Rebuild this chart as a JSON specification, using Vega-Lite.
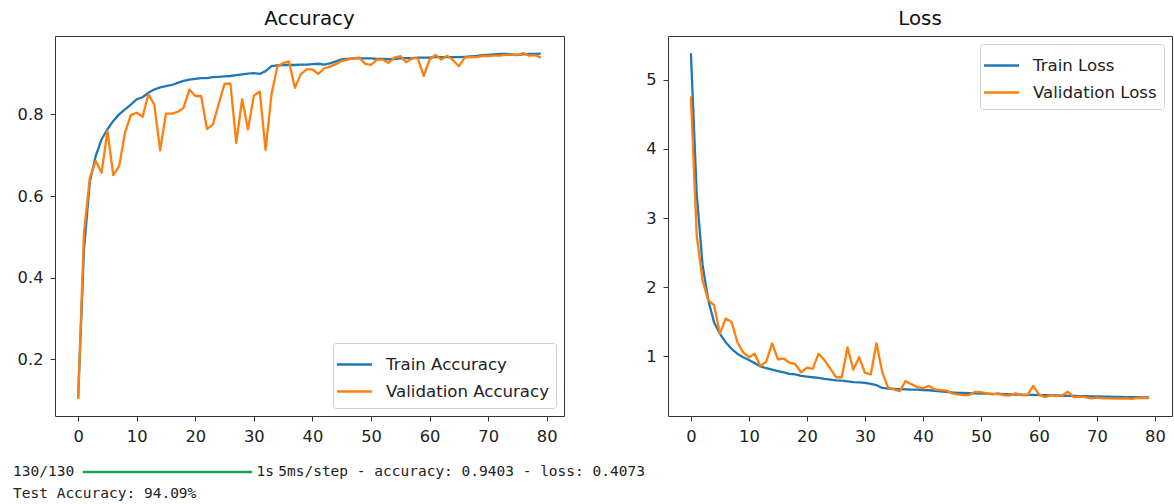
{
  "$schema": "https://vega.github.io/schema/vega-lite/v6.json",
  "background": "white",
  "padding": {"left": 12, "top": 8, "right": 5, "bottom": 2},
  "config": {
    "font": "DejaVu Sans",
    "view": {"stroke": "#333", "strokeWidth": 1},
    "axis": {"grid": false, "domain": false, "tickColor": "#333", "tickSize": 5, "labelFontSize": 16.3, "labelColor": "#222", "labelFont": "DejaVu Sans", "title": null},
    "axisX": {"labelPadding": 7},
    "axisY": {"labelPadding": 7},
    "title": {"fontSize": 19.8, "fontWeight": "normal", "color": "#111", "font": "DejaVu Sans", "frame": "group", "offset": 7},
    "legend": {"labelFontSize": 16.6, "labelColor": "#222", "labelFont": "DejaVu Sans", "labelLimit": 400, "symbolType": "M-1.35,0L1.35,0", "symbolSize": 676, "symbolStrokeWidth": 2.3, "fillColor": "white", "strokeColor": "#d0d0d0", "cornerRadius": 3, "padding": 7, "rowPadding": 3, "offset": 8, "labelOffset": 17}
  },
  "datasets": {
    "history": [
      {"epoch":0,"acc":0.105,"val_acc":0.103,"loss":5.38,"val_loss":4.76},
      {"epoch":1,"acc":0.47,"val_acc":0.51,"loss":3.35,"val_loss":2.75},
      {"epoch":2,"acc":0.635,"val_acc":0.645,"loss":2.33,"val_loss":2.10},
      {"epoch":3,"acc":0.698,"val_acc":0.686,"loss":1.81,"val_loss":1.81},
      {"epoch":4,"acc":0.739,"val_acc":0.657,"loss":1.49,"val_loss":1.74},
      {"epoch":5,"acc":0.763,"val_acc":0.759,"loss":1.327,"val_loss":1.33},
      {"epoch":6,"acc":0.784,"val_acc":0.651,"loss":1.206,"val_loss":1.55},
      {"epoch":7,"acc":0.800,"val_acc":0.673,"loss":1.11,"val_loss":1.50},
      {"epoch":8,"acc":0.812,"val_acc":0.755,"loss":1.04,"val_loss":1.21},
      {"epoch":9,"acc":0.824,"val_acc":0.798,"loss":0.99,"val_loss":1.06},
      {"epoch":10,"acc":0.837,"val_acc":0.804,"loss":0.95,"val_loss":0.99},
      {"epoch":11,"acc":0.842,"val_acc":0.794,"loss":0.904,"val_loss":1.04},
      {"epoch":12,"acc":0.853,"val_acc":0.849,"loss":0.856,"val_loss":0.856},
      {"epoch":13,"acc":0.861,"val_acc":0.824,"loss":0.83,"val_loss":0.93},
      {"epoch":14,"acc":0.866,"val_acc":0.712,"loss":0.81,"val_loss":1.19},
      {"epoch":15,"acc":0.869,"val_acc":0.802,"loss":0.79,"val_loss":0.96},
      {"epoch":16,"acc":0.872,"val_acc":0.802,"loss":0.77,"val_loss":0.97},
      {"epoch":17,"acc":0.877,"val_acc":0.806,"loss":0.75,"val_loss":0.91},
      {"epoch":18,"acc":0.882,"val_acc":0.816,"loss":0.74,"val_loss":0.89},
      {"epoch":19,"acc":0.885,"val_acc":0.861,"loss":0.72,"val_loss":0.77},
      {"epoch":20,"acc":0.887,"val_acc":0.845,"loss":0.71,"val_loss":0.84},
      {"epoch":21,"acc":0.889,"val_acc":0.845,"loss":0.70,"val_loss":0.82},
      {"epoch":22,"acc":0.889,"val_acc":0.764,"loss":0.69,"val_loss":1.04},
      {"epoch":23,"acc":0.891,"val_acc":0.775,"loss":0.675,"val_loss":0.95},
      {"epoch":24,"acc":0.892,"val_acc":0.826,"loss":0.665,"val_loss":0.83},
      {"epoch":25,"acc":0.893,"val_acc":0.875,"loss":0.655,"val_loss":0.70},
      {"epoch":26,"acc":0.894,"val_acc":0.875,"loss":0.65,"val_loss":0.70},
      {"epoch":27,"acc":0.896,"val_acc":0.730,"loss":0.64,"val_loss":1.13},
      {"epoch":28,"acc":0.898,"val_acc":0.837,"loss":0.63,"val_loss":0.81},
      {"epoch":29,"acc":0.900,"val_acc":0.763,"loss":0.625,"val_loss":0.99},
      {"epoch":30,"acc":0.901,"val_acc":0.846,"loss":0.62,"val_loss":0.765},
      {"epoch":31,"acc":0.899,"val_acc":0.856,"loss":0.605,"val_loss":0.74},
      {"epoch":32,"acc":0.906,"val_acc":0.713,"loss":0.585,"val_loss":1.19},
      {"epoch":33,"acc":0.918,"val_acc":0.848,"loss":0.545,"val_loss":0.77},
      {"epoch":34,"acc":0.920,"val_acc":0.917,"loss":0.535,"val_loss":0.549},
      {"epoch":35,"acc":0.921,"val_acc":0.926,"loss":0.532,"val_loss":0.525},
      {"epoch":36,"acc":0.921,"val_acc":0.929,"loss":0.528,"val_loss":0.50},
      {"epoch":37,"acc":0.921,"val_acc":0.865,"loss":0.525,"val_loss":0.644},
      {"epoch":38,"acc":0.922,"val_acc":0.898,"loss":0.522,"val_loss":0.60},
      {"epoch":39,"acc":0.922,"val_acc":0.910,"loss":0.52,"val_loss":0.56},
      {"epoch":40,"acc":0.923,"val_acc":0.910,"loss":0.515,"val_loss":0.54},
      {"epoch":41,"acc":0.924,"val_acc":0.899,"loss":0.512,"val_loss":0.575},
      {"epoch":42,"acc":0.922,"val_acc":0.913,"loss":0.505,"val_loss":0.525},
      {"epoch":43,"acc":0.925,"val_acc":0.917,"loss":0.497,"val_loss":0.515},
      {"epoch":44,"acc":0.930,"val_acc":0.923,"loss":0.488,"val_loss":0.51},
      {"epoch":45,"acc":0.935,"val_acc":0.931,"loss":0.48,"val_loss":0.467},
      {"epoch":46,"acc":0.936,"val_acc":0.934,"loss":0.475,"val_loss":0.452},
      {"epoch":47,"acc":0.937,"val_acc":0.937,"loss":0.472,"val_loss":0.443},
      {"epoch":48,"acc":0.937,"val_acc":0.939,"loss":0.469,"val_loss":0.443},
      {"epoch":49,"acc":0.937,"val_acc":0.924,"loss":0.467,"val_loss":0.49},
      {"epoch":50,"acc":0.937,"val_acc":0.921,"loss":0.465,"val_loss":0.486},
      {"epoch":51,"acc":0.936,"val_acc":0.934,"loss":0.462,"val_loss":0.467},
      {"epoch":52,"acc":0.936,"val_acc":0.934,"loss":0.46,"val_loss":0.452},
      {"epoch":53,"acc":0.935,"val_acc":0.926,"loss":0.458,"val_loss":0.467},
      {"epoch":54,"acc":0.936,"val_acc":0.939,"loss":0.455,"val_loss":0.438},
      {"epoch":55,"acc":0.937,"val_acc":0.943,"loss":0.452,"val_loss":0.438},
      {"epoch":56,"acc":0.938,"val_acc":0.928,"loss":0.45,"val_loss":0.467},
      {"epoch":57,"acc":0.938,"val_acc":0.937,"loss":0.448,"val_loss":0.443},
      {"epoch":58,"acc":0.939,"val_acc":0.937,"loss":0.446,"val_loss":0.438},
      {"epoch":59,"acc":0.939,"val_acc":0.894,"loss":0.444,"val_loss":0.575},
      {"epoch":60,"acc":0.939,"val_acc":0.934,"loss":0.442,"val_loss":0.452},
      {"epoch":61,"acc":0.940,"val_acc":0.946,"loss":0.44,"val_loss":0.414},
      {"epoch":62,"acc":0.940,"val_acc":0.934,"loss":0.438,"val_loss":0.438},
      {"epoch":63,"acc":0.940,"val_acc":0.944,"loss":0.436,"val_loss":0.428},
      {"epoch":64,"acc":0.940,"val_acc":0.933,"loss":0.434,"val_loss":0.438},
      {"epoch":65,"acc":0.940,"val_acc":0.918,"loss":0.432,"val_loss":0.49},
      {"epoch":66,"acc":0.941,"val_acc":0.939,"loss":0.43,"val_loss":0.414},
      {"epoch":67,"acc":0.942,"val_acc":0.941,"loss":0.428,"val_loss":0.419},
      {"epoch":68,"acc":0.943,"val_acc":0.940,"loss":0.426,"val_loss":0.414},
      {"epoch":69,"acc":0.945,"val_acc":0.943,"loss":0.424,"val_loss":0.395},
      {"epoch":70,"acc":0.946,"val_acc":0.943,"loss":0.422,"val_loss":0.405},
      {"epoch":71,"acc":0.947,"val_acc":0.944,"loss":0.42,"val_loss":0.395},
      {"epoch":72,"acc":0.948,"val_acc":0.944,"loss":0.418,"val_loss":0.395},
      {"epoch":73,"acc":0.948,"val_acc":0.946,"loss":0.416,"val_loss":0.39},
      {"epoch":74,"acc":0.947,"val_acc":0.946,"loss":0.415,"val_loss":0.39},
      {"epoch":75,"acc":0.946,"val_acc":0.945,"loss":0.414,"val_loss":0.395},
      {"epoch":76,"acc":0.947,"val_acc":0.950,"loss":0.412,"val_loss":0.386},
      {"epoch":77,"acc":0.948,"val_acc":0.944,"loss":0.411,"val_loss":0.40},
      {"epoch":78,"acc":0.948,"val_acc":0.945,"loss":0.41,"val_loss":0.40},
      {"epoch":79,"acc":0.949,"val_acc":0.939,"loss":0.409,"val_loss":0.40}
    ],
    "console": [
      {"line": 1, "col": 0, "text": "130/130", "kind": "step"},
      {"line": 1, "col": 27.9, "text": "1s", "kind": "time"},
      {"line": 1, "col": 30.4, "text": "5ms/step - accuracy: 0.9403 - loss: 0.4073", "kind": "metrics"},
      {"line": 2, "col": 0, "text": "Test Accuracy: 94.09%", "kind": "result"}
    ],
    "progress": [
      {"line": 1, "start": 8, "end": 27.4}
    ]
  },
  "vconcat": [
    {
      "hconcat": [
        {
          "width": 509,
          "height": 380,
          "title": {"text": "Accuracy"},
          "data": {"name": "history"},
          "transform": [{"fold": ["acc", "val_acc"], "as": ["series", "value"]}],
          "mark": {"type": "line", "strokeWidth": 2.3, "strokeJoin": "round", "clip": true},
          "encoding": {
            "x": {"field": "epoch", "type": "quantitative", "scale": {"domain": [-3.95, 82.95], "nice": false, "zero": false}, "axis": {"values": [0, 10, 20, 30, 40, 50, 60, 70, 80]}},
            "y": {"field": "value", "type": "quantitative", "scale": {"domain": [0.061, 0.992], "nice": false, "zero": false}, "axis": {"values": [0.2, 0.4, 0.6, 0.8], "format": ".1f", "minExtent": 42}},
            "color": {"field": "series", "type": "nominal", "scale": {"domain": ["acc", "val_acc"], "range": ["#1f77b4", "#ff7f0e"]}, "legend": {"orient": "bottom-right", "title": null, "labelExpr": "datum.label == 'acc' ? 'Train Accuracy' : 'Validation Accuracy'"}}
          }
        },
        {
          "width": 504,
          "height": 380,
          "title": {"text": "Loss"},
          "data": {"name": "history"},
          "transform": [{"fold": ["loss", "val_loss"], "as": ["series", "value"]}],
          "mark": {"type": "line", "strokeWidth": 2.3, "strokeJoin": "round", "clip": true},
          "encoding": {
            "x": {"field": "epoch", "type": "quantitative", "scale": {"domain": [-3.95, 82.95], "nice": false, "zero": false}, "axis": {"values": [0, 10, 20, 30, 40, 50, 60, 70, 80]}},
            "y": {"field": "value", "type": "quantitative", "scale": {"domain": [0.14, 5.63], "nice": false, "zero": false}, "axis": {"values": [1, 2, 3, 4, 5], "format": "d", "minExtent": 30}},
            "color": {"field": "series", "type": "nominal", "scale": {"domain": ["loss", "val_loss"], "range": ["#1f77b4", "#ff7f0e"]}, "legend": {"orient": "top-right", "title": null, "labelExpr": "datum.label == 'loss' ? 'Train Loss' : 'Validation Loss'"}}
          }
        }
      ],
      "spacing": 72,
      "resolve": {"scale": {"color": "independent"}, "legend": {"color": "independent"}}
    },
    {
      "width": 698,
      "height": 44,
      "view": {"stroke": null},
      "layer": [
        {
          "data": {"name": "progress"},
          "mark": {"type": "rule", "color": "#22a05a", "strokeWidth": 2.5},
          "encoding": {
            "x": {"field": "start", "type": "quantitative", "scale": {"domain": [0, 80], "range": [-42, 656], "nice": false, "zero": false}, "axis": null},
            "x2": {"field": "end"},
            "y": {"field": "line", "type": "ordinal", "scale": {"type": "point", "padding": 0.5, "domain": [1, 2]}, "axis": null}
          }
        },
        {
          "data": {"name": "console"},
          "mark": {"type": "text", "font": "DejaVu Sans Mono", "fontSize": 14.5, "align": "left", "baseline": "middle", "color": "#222"},
          "encoding": {
            "x": {"field": "col", "type": "quantitative", "scale": {"domain": [0, 80], "range": [-42, 656], "nice": false, "zero": false}, "axis": null},
            "y": {"field": "line", "type": "ordinal", "scale": {"type": "point", "padding": 0.5, "domain": [1, 2]}, "axis": null},
            "text": {"field": "text"},
            "fontWeight": {"condition": {"test": "datum.kind == 'step' || datum.kind == 'time'", "value": "bold"}, "value": "normal"}
          }
        }
      ]
    }
  ],
  "spacing": 16
}
